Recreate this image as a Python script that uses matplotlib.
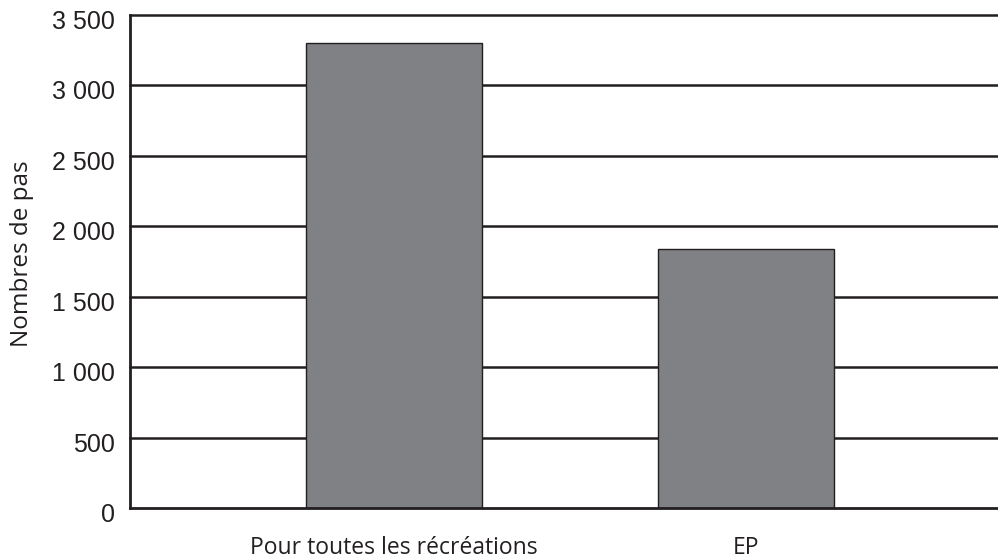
import matplotlib
matplotlib.use("Agg")
import matplotlib.pyplot as plt
import matplotlib.transforms as mtransforms

categories = ["Pour toutes les récréations", "EP"]
values = [3300, 1840]
yticks = [0, 500, 1000, 1500, 2000, 2500, 3000, 3500]
ylabel = "Nombres de pas"

fig = plt.figure(figsize=(9.98, 5.58), dpi=100)
ax = fig.add_axes([0.1303, 0.0896, 0.8697, 0.8835])

x = list(range(len(categories)))
ax.bar(x, values, width=0.5, color="#808184", edgecolor="#231f20", linewidth=1.0, zorder=3)

for v in yticks[1:]:
    ax.axhline(v, color="#231f20", linewidth=1.8, zorder=1, clip_on=False)

ax.set_ylim(0, 3500)
ax.set_xlim(-0.75, 1.716)
ax.set_yticks(yticks)
ax.set_yticklabels([])
# y tick labels drawn as text, slightly below their gridlines as in the reference
trans = ax.get_yaxis_transform() + mtransforms.ScaledTranslation(-15 / 100, -7 / 100, fig.dpi_scale_trans)
for v in yticks:
    ax.text(0, v, f"{v:,}".replace(",", " "), transform=trans, ha="right", va="center",
            fontfamily="Liberation Sans", fontsize=18, color="#231f20", clip_on=False)

ax.set_xticks(x)
ax.set_xticklabels(categories, fontfamily="Open Sans", fontsize=16.5, color="#231f20")
ax.tick_params(axis="both", length=0)
ax.tick_params(axis="x", pad=20)

for s in ["top", "right"]:
    ax.spines[s].set_visible(False)
for s in ["left", "bottom"]:
    ax.spines[s].set_linewidth(2.0)
    ax.spines[s].set_color("#231f20")
    ax.spines[s].set_zorder(4)

fig.text(0.0101, 0.545, ylabel,
         rotation=90, ha="left", va="center", fontfamily="Open Sans", fontsize=17.5, color="#231f20")

fig.savefig("out.png", dpi=100)
